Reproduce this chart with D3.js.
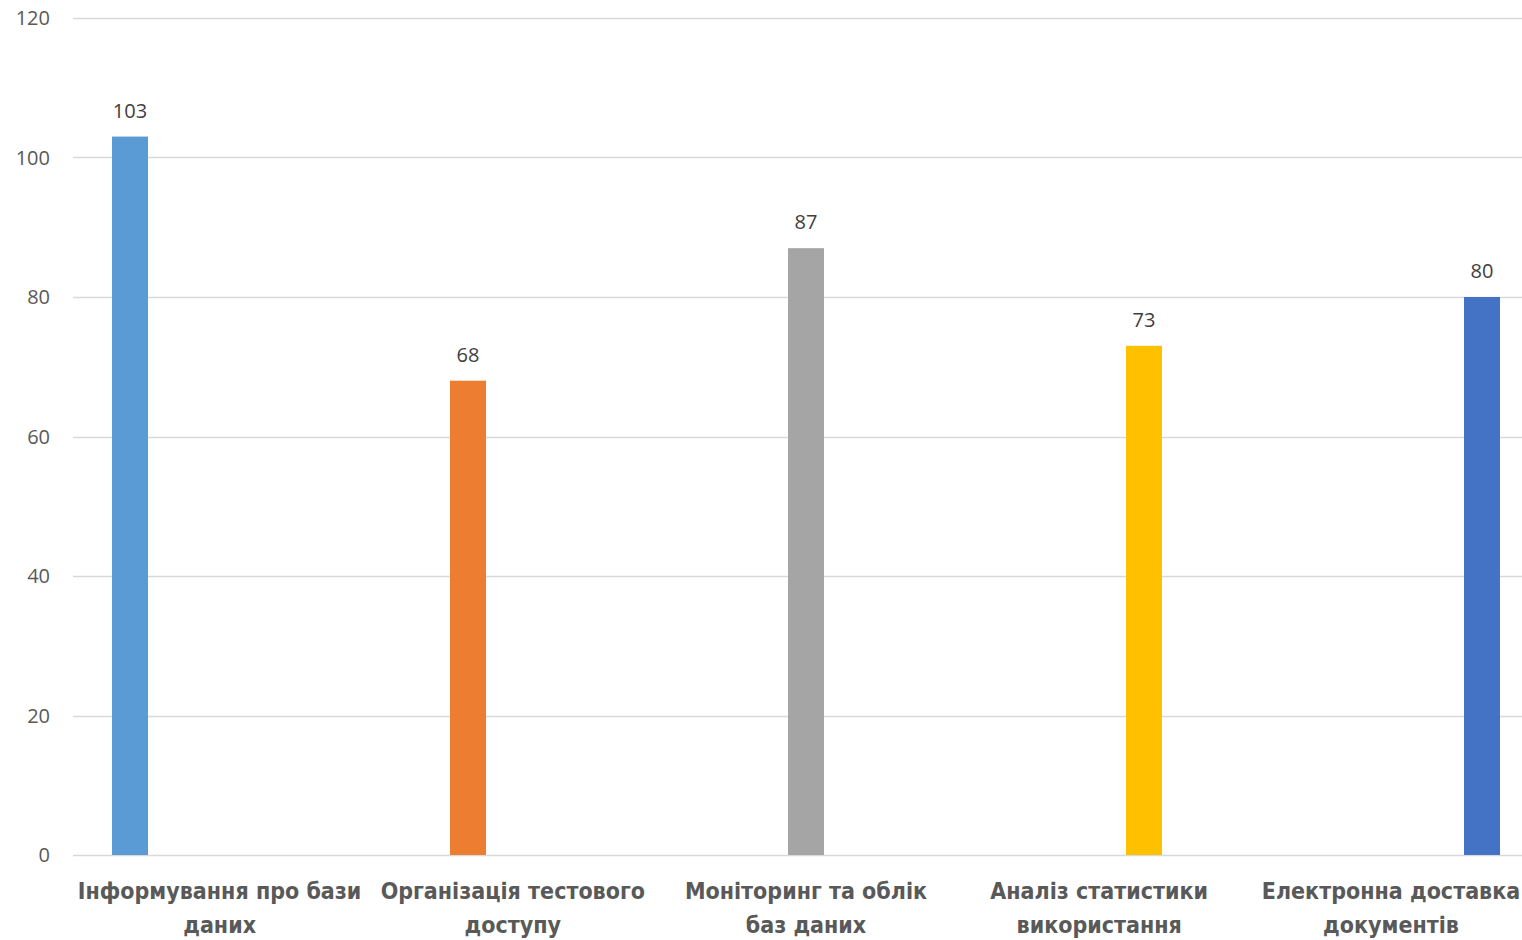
<!DOCTYPE html>
<html>
<head>
<meta charset="utf-8">
<script src="https://cdn.jsdelivr.net/npm/d3@7"></script>
<style>
  html, body { margin: 0; padding: 0; background: #fff; }
  svg { display: block; }
</style>
</head>
<body>
<svg id="chart" width="1522" height="940"></svg>
<script>
const categories = [
  ["Інформування про бази", "даних"],
  ["Організація тестового", "доступу"],
  ["Моніторинг та облік", "баз даних"],
  ["Аналіз статистики", "використання"],
  ["Електронна доставка", "документів"]
];
const seriesNames = ["s1", "s2", "s3", "s4", "s5"];
const values = [103, 68, 87, 73, 80];
const colors = ["#5B9BD5", "#ED7D31", "#A5A5A5", "#FFC000", "#4472C4"];
const yTicks = [0, 20, 40, 60, 80, 100, 120];

(function () {
const svg = d3.select("#chart");
const mLeft = 73, mRight = 1539, mTop = 18, mBottom = 855;

const x = d3.scaleBand().domain(d3.range(categories.length)).range([mLeft, mRight]).padding(0);
const groupW = x.bandwidth() * 0.764;
const xs = d3.scaleBand().domain(seriesNames).range([-groupW / 2, groupW / 2]).padding(0);
const barW = 36;
const y = d3.scaleLinear().domain([0, 120]).range([mBottom, mTop]);

// gridlines
svg.append("g").selectAll("line").data(yTicks).join("line")
  .attr("x1", mLeft).attr("x2", 1522)
  .attr("y1", d => Math.round(y(d)) + 0.5).attr("y2", d => Math.round(y(d)) + 0.5)
  .attr("stroke", "#D9D9D9").attr("stroke-width", 1.6);

// y tick labels
svg.append("g").selectAll("text").data(yTicks).join("text")
  .attr("x", 50).attr("y", d => y(d) + 7)
  .attr("text-anchor", "end")
  .attr("font-family", "'Open Sans', sans-serif").attr("font-size", 20)
  .attr("fill", "#595959")
  .text(d => d);

// bars: series i has value only in category i
const bars = values.map((v, i) => ({ cat: i, series: seriesNames[i], value: v, color: colors[i] }));
const barX = d => x(d.cat) + x.bandwidth() / 2 + xs(d.series) + xs.bandwidth() / 2 - barW / 2;

svg.append("g").selectAll("rect").data(bars).join("rect")
  .attr("x", barX).attr("width", barW)
  .attr("y", d => y(d.value)).attr("height", d => y(0) - y(d.value))
  .attr("fill", d => d.color);

// data labels
svg.append("g").selectAll("text").data(bars).join("text")
  .attr("x", d => barX(d) + barW / 2).attr("y", d => y(d.value) - 19)
  .attr("text-anchor", "middle")
  .attr("font-family", "'Open Sans', sans-serif").attr("font-size", 20)
  .attr("fill", "#404040")
  .text(d => d.value);

// category labels
const cl = svg.append("g").selectAll("text").data(categories).join("text")
  .attr("text-anchor", "middle")
  .attr("font-family", "'DejaVu Sans Condensed', 'DejaVu Sans', sans-serif")
  .attr("font-stretch", "condensed")
  .attr("font-weight", "bold").attr("font-size", 23)
  .attr("fill", "#595959");
cl.each(function(d, i) {
  const t = d3.select(this);
  d.forEach((line, j) => {
    t.append("tspan").attr("x", Math.min(x(i) + x.bandwidth() / 2, 1391)).attr("y", 899 + j * 34).text(line);
  });
});
})();
</script>
</body>
</html>
